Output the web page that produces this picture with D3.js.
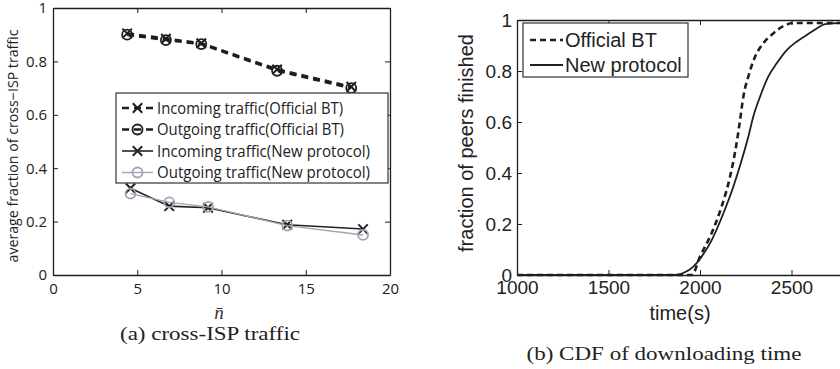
<!DOCTYPE html>
<html>
<head>
<meta charset="utf-8">
<script src="https://cdn.jsdelivr.net/npm/d3@7"></script>
<style>
  body { margin: 0; background: #fff; }
  svg { display: block; }
</style>
</head>
<body>
<svg id="chart" width="840" height="369"></svg>
<script>
// (a) cross-ISP traffic
var nOfficial = [4.4, 6.7, 8.8, 13.3, 17.7];
var inOfficial = [0.905, 0.885, 0.868, 0.77, 0.705];
var outOfficial = [0.9, 0.88, 0.865, 0.765, 0.7];
var nNew = [4.6, 6.9, 9.2, 13.9, 18.4];
var inNew = [0.325, 0.258, 0.252, 0.188, 0.172];
var outNew = [0.305, 0.272, 0.255, 0.185, 0.15];
var xTicksA = [0, 5, 10, 15, 20];
var yTicks = [0, 0.2, 0.4, 0.6, 0.8, 1];
var legendA = ["Incoming traffic(Official BT)", "Outgoing traffic(Official BT)",
               "Incoming traffic(New protocol)", "Outgoing traffic(New protocol)"];

// (b) CDF of downloading time
var timeOfficial = [1000, 1955, 2000, 2064, 2118, 2164, 2200, 2219, 2237, 2264, 2301, 2346, 2401, 2455, 2510, 3000];
var cdfOfficial = [0, 0, 0.072, 0.165, 0.268, 0.385, 0.517, 0.608, 0.7, 0.778, 0.856, 0.909, 0.948, 0.976, 0.988, 0.988];
var timeNew = [1000, 1854, 1909, 1964, 2009, 2064, 2128, 2182, 2228, 2264, 2291, 2328, 2373, 2419, 2474, 2528, 2583, 2638, 2683, 2765, 3000];
var cdfNew = [0, 0, 0.008, 0.033, 0.072, 0.137, 0.242, 0.346, 0.451, 0.542, 0.621, 0.699, 0.778, 0.83, 0.882, 0.915, 0.941, 0.967, 0.984, 0.988, 0.988];
var xTicksB = [1000, 1500, 2000, 2500];
var legendB = ["Official BT", "New protocol"];

var svg = d3.select("#chart");
var ink = "#1e1e1e";
var sansA = "'Open Sans', sans-serif";
var sansB = "'Liberation Sans', Arial, sans-serif";
var serif = "'Liberation Serif', serif";

// draws a framed box with inward ticks on all four sides
function frame(x, y, xt, yt, font, size, padX, padY) {
    var x0 = x.range()[0], x1 = x.range()[1], y0 = y.range()[0], y1 = y.range()[1];
    var fmt = function(d) { return String(d); };
    svg.append("g").attr("transform", "translate(0," + y0 + ")")
        .call(d3.axisBottom(x).tickValues(xt).tickFormat(fmt).tickSizeInner(-5).tickSizeOuter(0).tickPadding(padX));
    svg.append("g").attr("transform", "translate(0," + y1 + ")")
        .call(d3.axisTop(x).tickValues(xt).tickFormat("").tickSizeInner(-5).tickSizeOuter(0));
    svg.append("g").attr("transform", "translate(" + x0 + ",0)")
        .call(d3.axisLeft(y).tickValues(yt).tickFormat(fmt).tickSizeInner(-5).tickSizeOuter(0).tickPadding(padY));
    svg.append("g").attr("transform", "translate(" + x1 + ",0)")
        .call(d3.axisRight(y).tickValues(yt).tickFormat("").tickSizeInner(-5).tickSizeOuter(0));
    svg.selectAll(".domain").attr("stroke", ink).attr("stroke-width", 1.3);
    svg.selectAll(".tick line").attr("stroke", ink);
    svg.selectAll(".tick text").filter(function() { return !this.dataset.done; })
        .attr("font-family", font).attr("font-size", size).attr("fill", "#222")
        .attr("data-done", 1);
}

function marker(g, kind, cx, cy, color) {
    if (kind === "x") {
        g.append("path").attr("d", d3.symbol(d3.symbolX, 60)())
            .attr("transform", "translate(" + cx + "," + cy + ")")
            .attr("fill", "none").attr("stroke", color).attr("stroke-width", 2);
    } else {
        g.append("circle").attr("cx", cx).attr("cy", cy).attr("r", 5)
            .attr("fill", "none").attr("stroke", color).attr("stroke-width", 1.8);
    }
}

// ---------- panel (a)
var xA = d3.scaleLinear().domain([0, 20]).range([53, 390]);
var yA = d3.scaleLinear().domain([0, 1]).range([275, 8]);
frame(xA, yA, xTicksA, yTicks, sansA, 15, 8, 6);

var styleA = [
    { dash: "7,5", color: ink, width: 2.6, mark: "x" },
    { dash: "7,5", color: ink, width: 2.6, mark: "o" },
    { dash: null, color: "#222", width: 1.6, mark: "x" },
    { dash: null, color: "#a4a2b4", width: 1.4, mark: "o" }
];
var seriesA = [[nOfficial, inOfficial], [nOfficial, outOfficial], [nNew, inNew], [nNew, outNew]];

var gA = svg.append("g");
seriesA.forEach(function(s, k) {
    var pts = s[0].map(function(v, i) { return [xA(v), yA(s[1][i])]; });
    gA.append("path").attr("d", d3.line()(pts))
        .attr("fill", "none").attr("stroke", styleA[k].color)
        .attr("stroke-width", styleA[k].width)
        .attr("stroke-dasharray", styleA[k].dash);
    pts.forEach(function(p) { marker(gA, styleA[k].mark, p[0], p[1], styleA[k].color); });
});

var legA = svg.append("g");
legA.append("rect").attr("x", 116).attr("y", 93).attr("width", 272).attr("height", 90)
    .attr("fill", "#fff").attr("stroke", "#333").attr("stroke-width", 1.2);
var textLenA = [186, 187, 213, 213];
legendA.forEach(function(t, k) {
    var ly = 108 + k * 21.5;
    legA.append("line").attr("x1", 122).attr("x2", 153).attr("y1", ly).attr("y2", ly)
        .attr("stroke", styleA[k].color).attr("stroke-width", styleA[k].width)
        .attr("stroke-dasharray", styleA[k].dash ? "7,5" : null);
    marker(legA, styleA[k].mark, 137.5, ly, styleA[k].color);
    legA.append("text").attr("x", 157).attr("y", ly).attr("dy", "0.36em")
        .attr("font-family", sansA).attr("font-size", 16).attr("fill", "#222")
        .attr("textLength", textLenA[k]).attr("lengthAdjust", "spacingAndGlyphs")
        .text(t);
});

svg.append("text").attr("transform", "translate(18,146) rotate(-90)")
    .attr("text-anchor", "middle").attr("font-family", sansA).attr("font-size", 14)
    .attr("fill", "#222").attr("textLength", 233).attr("lengthAdjust", "spacingAndGlyphs")
    .text("average fraction of cross\u2212ISP traffic");

svg.append("text").attr("x", 219).attr("y", 319).attr("text-anchor", "middle")
    .attr("font-family", serif).attr("font-style", "italic").attr("font-size", 19)
    .attr("fill", "#333").text("n\u0304");

svg.append("text").attr("x", 210).attr("y", 340).attr("text-anchor", "middle")
    .attr("font-family", serif).attr("font-size", 19).attr("fill", "#222")
    .attr("textLength", 180).attr("lengthAdjust", "spacingAndGlyphs")
    .text("(a) cross-ISP traffic");

// ---------- panel (b)
var xB = d3.scaleLinear().domain([1000, 3000]).range([517, 883]);
var yB = d3.scaleLinear().domain([0, 1]).range([275, 20]);
frame(xB, yB, xTicksB, yTicks, sansB, 19, 6, 5);

var gB = svg.append("g");
var lineB = d3.line().x(function(d) { return xB(d[0]); }).y(function(d) { return yB(d[1]); })
    .curve(d3.curveMonotoneX);
gB.append("path").attr("d", lineB(d3.zip(timeNew, cdfNew)))
    .attr("fill", "none").attr("stroke", ink).attr("stroke-width", 1.8);
gB.append("path").attr("d", lineB(d3.zip(timeOfficial, cdfOfficial)))
    .attr("fill", "none").attr("stroke", ink).attr("stroke-width", 2.6)
    .attr("stroke-dasharray", "6,4");

var legB = svg.append("g");
legB.append("rect").attr("x", 523).attr("y", 23).attr("width", 165).attr("height", 54)
    .attr("fill", "#fff").attr("stroke", "#333").attr("stroke-width", 1.2);
legendB.forEach(function(t, k) {
    var ly = 40 + k * 25;
    legB.append("line").attr("x1", 530).attr("x2", 563).attr("y1", ly).attr("y2", ly)
        .attr("stroke", ink).attr("stroke-width", k === 0 ? 2.6 : 1.8)
        .attr("stroke-dasharray", k === 0 ? "6,4" : null);
    legB.append("text").attr("x", 565).attr("y", ly).attr("dy", "0.36em")
        .attr("font-family", sansB).attr("font-size", 20).attr("fill", "#222")
        .text(t);
});

svg.append("text").attr("transform", "translate(473,143) rotate(-90)")
    .attr("text-anchor", "middle").attr("font-family", sansB).attr("font-size", 20)
    .attr("fill", "#222").text("fraction of peers finished");

svg.append("text").attr("x", 680).attr("y", 320).attr("text-anchor", "middle")
    .attr("font-family", sansB).attr("font-size", 20).attr("fill", "#222")
    .text("time(s)");

svg.append("text").attr("x", 664).attr("y", 360).attr("text-anchor", "middle")
    .attr("font-family", serif).attr("font-size", 19).attr("fill", "#222")
    .attr("textLength", 275).attr("lengthAdjust", "spacingAndGlyphs")
    .text("(b) CDF of downloading time");
</script>
</body>
</html>
